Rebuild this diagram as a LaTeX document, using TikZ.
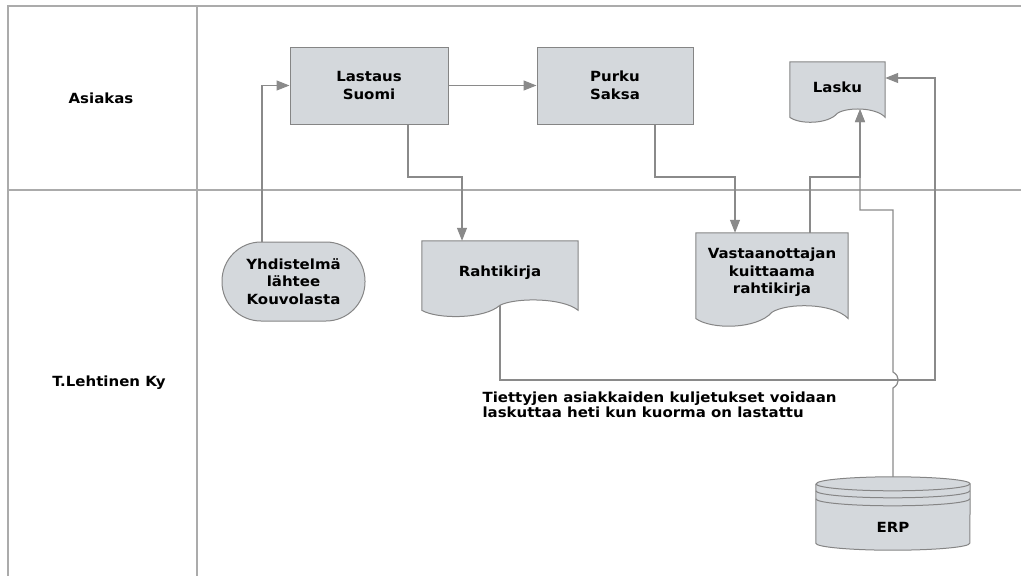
\documentclass[tikz,border=0pt]{standalone}
\usepackage{fontspec}
\setmainfont[FakeStretch=1.07]{DejaVu Sans}
\usetikzlibrary{arrows.meta,calc,backgrounds}

\definecolor{boxfill}{HTML}{D4D8DC}
\definecolor{boxline}{HTML}{858585}
\definecolor{laneline}{HTML}{ABABAB}
\definecolor{flowline}{HTML}{8A8A8A}

% document with a wavy bottom edge, drawn round a node
\newcommand\docoutline[1]{%
  \filldraw[boxline, fill=boxfill, line width=1pt] let \p1=(#1.north west), \p2=(#1.south east),
    \n1={\x2-\x1}, \n2={\y1-\y2} in
    (\x1,\y1) -- (\x2,\y1) -- (\x2,\y2-0.08*\n2)
    .. controls (\x2-0.1*\n1,\y2+0.12*\n2) and (\x1+0.6*\n1,\y2+0.12*\n2) .. (\x1+0.5*\n1,\y2)
    .. controls (\x1+0.4*\n1,\y2-0.22*\n2) and (\x1+0.1*\n1,\y2-0.22*\n2) .. (\x1,\y2-0.08*\n2)
    -- cycle;}

\begin{document}
\begin{tikzpicture}[x=1pt, y=-1pt,
    font=\bfseries\fontsize{14}{17.5}\selectfont,
    lane/.style={laneline, line width=1.5pt},
    proc/.style={draw=boxline, fill=boxfill, line width=1pt, align=center, inner sep=0pt},
    docnode/.style={align=center, inner sep=0pt},
    flow/.style={flowline, line width=1.2pt, -{Triangle[length=13pt, width=10pt]}}]
  \useasboundingbox (0,0) rectangle (1021,576);

  % swimlanes
  \draw[lane] (8,576) -- (8,6) -- (1021,6);
  \draw[lane] (197,6) -- (197,576);
  \draw[lane] (8,190) -- (1021,190);
  \node (asiakas) at (101,98) {Asiakas};
  \node (lehtinen) at (109,383) {T.Lehtinen Ky};

  % steps
  \node[proc, minimum width=158pt, minimum height=77pt] (lastaus) at (369,85.5) {Lastaus\\Suomi};
  \node[proc, minimum width=156pt, minimum height=77pt] (purku) at (615,85.5) {Purku\\Saksa};
  \node[proc, rounded corners=39pt, minimum width=143pt, minimum height=79pt] (yhd) at (293.5,281.5)
    {Yhdistelmä\\lähtee\\Kouvolasta};

  \node[docnode, minimum width=95pt, minimum height=51pt] (lasku) at (837.5,87.5) {Lasku};
  \node[docnode, minimum width=156pt, minimum height=64pt] (rahti) at (500,273) {Rahtikirja};
  \node[docnode, minimum width=152pt, minimum height=79pt] (kuittaus) at (772,272.5)
    {Vastaanottajan\\kuittaama\\rahtikirja};
  \node[docnode, minimum width=154pt, minimum height=46pt] (erp) at (893,527) {ERP};

  \begin{scope}[on background layer]
    \docoutline{lasku}
    \docoutline{rahti}
    \docoutline{kuittaus}
    % database cylinder, its top rises above the text box
    \filldraw[boxline, fill=boxfill, line width=1pt] let \p1=(erp.north west), \p2=(erp.south east) in
      (\x1,\y1+20pt) -- (\x1,\y2+7pt) arc[start angle=180, end angle=360, x radius=77pt, y radius=7pt]
      -- (\x2,\y1+20pt) arc[start angle=0, end angle=180, x radius=77pt, y radius=7pt];
    \draw[boxline, line width=1pt] let \p1=(erp.north west) in
      (\x1,\y1+20pt) arc[start angle=180, end angle=360, x radius=77pt, y radius=7pt]
      (\x1,\y1+13pt) arc[start angle=180, end angle=360, x radius=77pt, y radius=7pt]
      (\x1,\y1+5pt) arc[start angle=180, end angle=360, x radius=77pt, y radius=7pt];
  \end{scope}

  % flows
  \draw[flow] (yhd.north -| 262,0) |- (lastaus.west);
  \draw[flow] (lastaus.east) -- (purku.west);
  \draw[flow] (lastaus.south -| 408,0) -- (408,177) -| (rahti.north -| 462,0);
  \draw[flow] (purku.south -| 655,0) -- (655,177) -| (kuittaus.north -| 735,0);
  \draw[flow] (kuittaus.north -| 810,0) -- (810,177) -| ([yshift=4pt]lasku.south -| 860,0);
  \draw[flow] ([yshift=27pt]erp.north) -- (erp.north |- 0,388) .. controls +(7,-4) and +(7,4) .. (erp.north |- 0,372)
    -- (erp.north |- 0,210) -| ([yshift=4pt]lasku.south -| 860,0);
  \draw[flow] (rahti.south) |- (935,380) -- (935,78) -- (lasku.east |- 0,78);

  \node[anchor=north west, align=left, font=\bfseries\fontsize{14}{15}\selectfont] (huom) at (479,388)
    {Tiettyjen asiakkaiden kuljetukset voidaan\\laskuttaa heti kun kuorma on lastattu};
\end{tikzpicture}
\end{document}
